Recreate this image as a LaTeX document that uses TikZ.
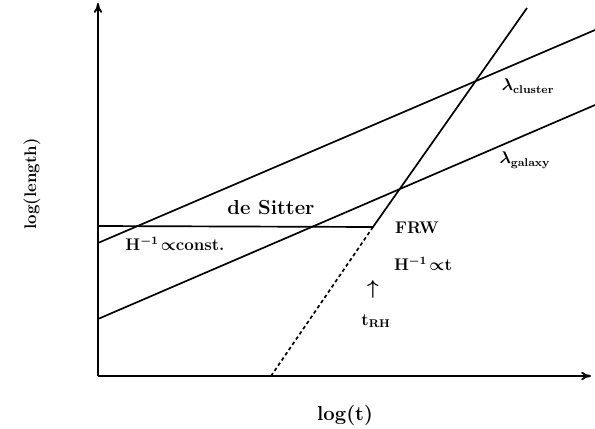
\documentclass[tikz,border=0pt]{standalone}
\usetikzlibrary{arrows.meta}

\begin{document}
\begin{tikzpicture}[
    x=0.025cm, y=-0.025cm,
    >={To[length=7pt,width=6pt]},
    curve/.style={line width=1.2pt},
    axis/.style={line width=1.3pt, ->},
    lab/.style={font=\large\bfseries\boldmath, inner sep=1pt}
]
    \useasboundingbox (0,0) rectangle (595,429);

    % --- AXES ---
    \coordinate (origin) at (98,376);
    \coordinate (ytop) at (98,3);
    \coordinate (xend) at (591,376);
    \draw[axis] (origin) -- (ytop);
    \draw[axis] (origin) -- (xend);

    % --- SCALES (parallel lines) ---
    \coordinate (clusterL) at (98,243);
    \coordinate (clusterR) at (595,30);
    \coordinate (galaxyL) at (98,319);
    \coordinate (galaxyR) at (595,105);
    \draw[curve] (clusterL) -- (clusterR);
    \draw[curve] (galaxyL) -- (galaxyR);

    % --- HUBBLE RADIUS: de Sitter then FRW ---
    \coordinate (dsL) at (98,226);
    \coordinate (tRH) at (373,227);
    \coordinate (frwTop) at (527,8);
    \coordinate (frwFoot) at (271,376);
    \draw[curve] (dsL) -- (tRH) -- (frwTop);
    \draw[curve, dash pattern=on 2.5pt off 2pt] (tRH) -- (frwFoot);

    % --- LABELS ---
    \node[lab, rotate=90] (ylab) at (32,184) {log(length)};
    \node[lab, font=\Large\bfseries] (xlab) at (345,415) {log(t)};
    \node[lab, font=\Large\bfseries] (desitter) at (271,208) {de Sitter};
    \node[lab] (hconst) at (175,244) {H$^{-1}\!\propto$const.};
    \node[lab] (frw) at (417,228) {FRW};
    \node[lab] (hfrw) at (423,264) {H$^{-1}\!\propto$t};
    \node[lab, font=\Large\bfseries\boldmath] (uparrow) at (373,289) {$\uparrow$};
    \node[lab] (trh) at (376,321) {t$_{\mathbf{RH}}$};
    \node[lab] (lcluster) at (528,86) {$\lambda_{\mathbf{cluster}}$};
    \node[lab] (lgalaxy) at (525,160) {$\lambda_{\mathbf{galaxy}}$};
\end{tikzpicture}
\end{document}
